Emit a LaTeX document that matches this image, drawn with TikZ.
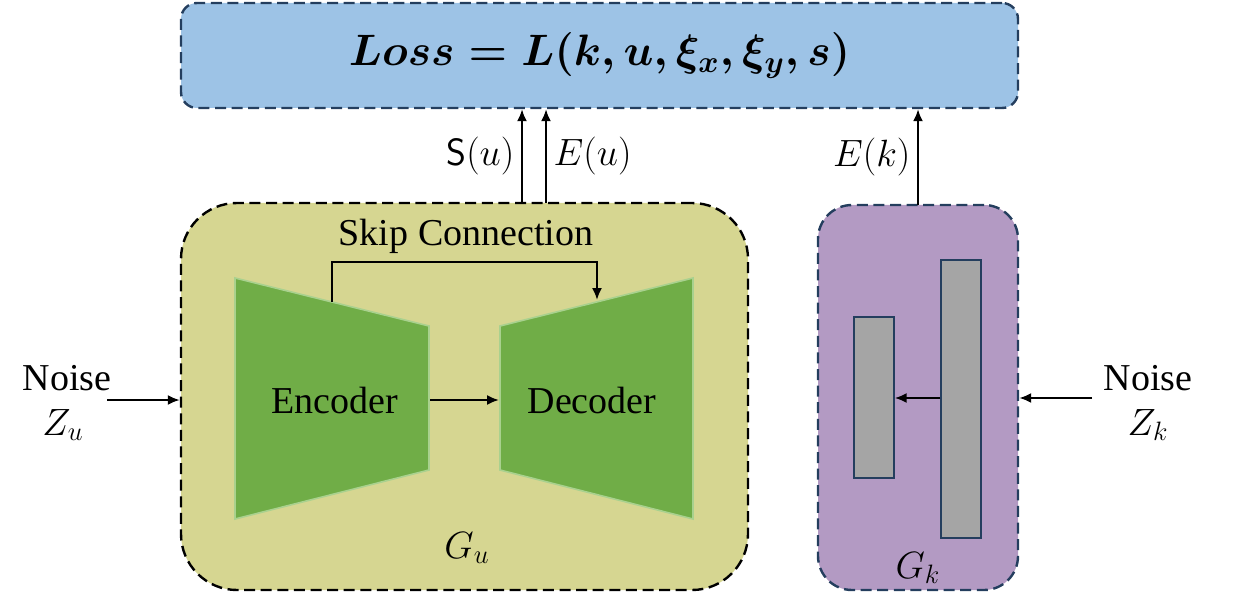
\RequirePackage{fix-cm}
\documentclass[tikz,border=0pt]{standalone}
\usepackage{amsmath}
\usepackage{amssymb}
\usepackage{fontspec}
\setmainfont{Liberation Serif}
\usetikzlibrary{arrows.meta, shapes}

\definecolor{lossblue}{RGB}{157,195,230}
\definecolor{navy}{RGB}{36,62,94}
\definecolor{gubox}{RGB}{214,214,145}
\definecolor{gkbox}{RGB}{179,154,195}
\definecolor{unet}{RGB}{112,173,71}
\definecolor{unetline}{RGB}{169,209,142}
\definecolor{layer}{RGB}{165,165,165}

\newcommand{\lossfont}{\fontsize{22}{26}\selectfont\boldmath}

\tikzset{
  block/.style={draw, line width=1.2pt, dash pattern=on 5.5pt off 2.8pt},
  layerbox/.style={draw=navy, fill=layer, line width=0.7pt, minimum width=20pt},
  flow/.style={-{Latex[length=6pt, width=5pt]}, line width=1pt}
}

\begin{document}
\begin{tikzpicture}[x=0.5pt, y=-0.5pt, font=\fontsize{19}{22}\selectfont]
\useasboundingbox (0,0) rectangle (1235,593);

            % boxes
            \node[block, draw=navy, fill=lossblue, rounded corners=8pt, minimum width=418.5pt, minimum height=52.5pt, font=\lossfont] (L) at (599.5,55.5) {$Loss = L(k, u, \xi_x, \xi_y, s)$};
            \node[block, draw=black, fill=gubox, rounded corners=28pt, minimum width=283.5pt, minimum height=193.5pt] (Gu) at (464.5,396.5) {};
            \node[block, draw=navy, fill=gkbox, rounded corners=17pt, minimum width=100pt, minimum height=192.5pt] (Gk) at (918,397.5) {};

            % encoder / decoder
            \draw[fill=unet, draw=unetline, line width=0.8pt]
                (235,278) -- (429,326) -- (429,470) -- (235,519) -- cycle;
            \draw[fill=unet, draw=unetline, line width=0.8pt]
                (500,326) -- (693,278) -- (693,519) -- (500,470) -- cycle;
            \node (enc) at (335,400) {Encoder};
            \node (dec) at (592,400) {Decoder};
            \coordinate (encR) at (430,400);
            \coordinate (decL) at (499,400);
            \draw[flow] (encR) -- (decL);

            \node (skip) at (466,236) {Skip Connection};
            \coordinate (skipA) at (332,302);
            \coordinate (skipTop) at (466,262);
            \coordinate (skipB) at (597,300);
            \draw[flow] (skipA) |- (skipTop) -| (skipB);

            \node (Gulab) at (467,548) {$G_u$};

            % G_k layers
            \node[layerbox, minimum height=80.5pt] (small) at (874,397.5) {};
            \node[layerbox, minimum height=139pt] (big) at (961,399) {};
            \coordinate (mid) at (918,398);
            \draw[flow] (big.west |- mid) -- (small.east |- mid);
            \node (Gklab) at (918,568) {$G_k$};

            % noise inputs
            \node (nu) at (67,378) {Noise};
            \node (zu) at (63,425) {$Z_u$};
            \coordinate (nuin) at (107,400);
            \draw[flow] (nuin) -- (Gu.west |- nuin);

            \node (nk) at (1148,378) {Noise};
            \node (zk) at (1148,425) {$Z_k$};
            \coordinate (nkin) at (1092,398);
            \draw[flow] (nkin) -- (Gk.east |- nkin);

            % outputs to loss
            \coordinate (su) at (522,203);
            \coordinate (eu) at (546,203);
            \coordinate (ek) at (918,205);
            \draw[flow] (su) -- node[left] {$\mathsf{S}(u)$} (su |- L.south);
            \draw[flow] (eu) -- node[right] {$E(u)$} (eu |- L.south);
            \draw[flow] (ek) -- node[left] {$E(k)$} (ek |- L.south);
        \end{tikzpicture}
\end{document}
